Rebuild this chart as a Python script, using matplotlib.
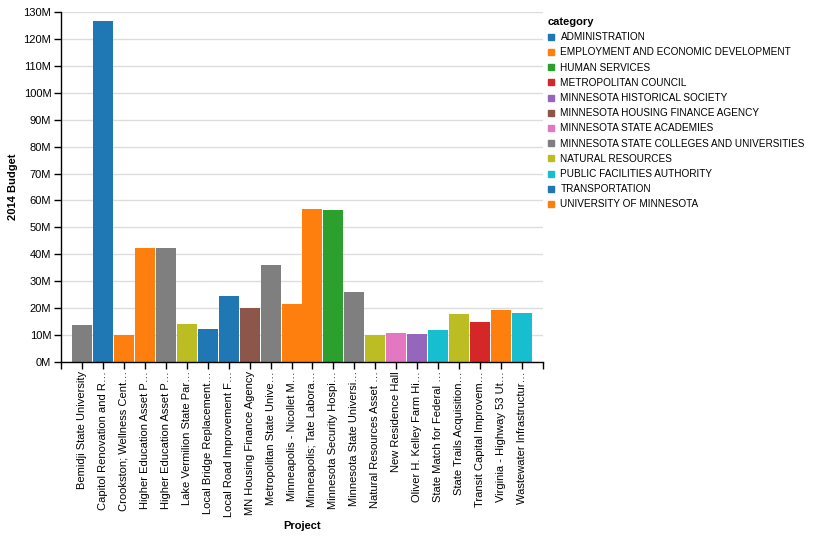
import matplotlib
matplotlib.use("Agg")
import matplotlib.pyplot as plt
from matplotlib.lines import Line2D

plt.rcParams['font.family'] = ['Liberation Sans', 'DejaVu Sans']

projects = [
    "Bemidji State University", "Capitol Renovation and R…", "Crookston; Wellness Cent…",
    "Higher Education Asset P…", "Higher Education Asset P…", "Lake Vermilion State Par…",
    "Local Bridge Replacement…", "Local Road Improvement F…", "MN Housing Finance Agency",
    "Metropolitan State Unive…", "Minneapolis - Nicollet M…", "Minneapolis; Tate Labora…",
    "Minnesota Security Hospi…", "Minnesota State Universi…", "Natural Resources Asset …",
    "New Residence Hall", "Oliver H. Kelley Farm Hi…", "State Match for Federal …",
    "State Trails Acquisition…", "Transit Capital Improvem…", "Virginia - Highway 53 Ut…",
    "Wastewater Infrastructur…",
]
budget_m = [13.9, 126.6, 10.2, 42.5, 42.5, 14.2, 12.4, 24.7, 20.2, 36.2, 21.7,
            57.0, 56.6, 26.1, 10.2, 10.9, 10.5, 12.0, 18.0, 15.0, 19.5, 18.3]
bar_category = [
    "MINNESOTA STATE COLLEGES AND UNIVERSITIES", "ADMINISTRATION", "UNIVERSITY OF MINNESOTA",
    "UNIVERSITY OF MINNESOTA", "MINNESOTA STATE COLLEGES AND UNIVERSITIES", "NATURAL RESOURCES",
    "TRANSPORTATION", "TRANSPORTATION", "MINNESOTA HOUSING FINANCE AGENCY",
    "MINNESOTA STATE COLLEGES AND UNIVERSITIES", "EMPLOYMENT AND ECONOMIC DEVELOPMENT",
    "UNIVERSITY OF MINNESOTA", "HUMAN SERVICES", "MINNESOTA STATE COLLEGES AND UNIVERSITIES",
    "NATURAL RESOURCES", "MINNESOTA STATE ACADEMIES", "MINNESOTA HISTORICAL SOCIETY",
    "PUBLIC FACILITIES AUTHORITY", "NATURAL RESOURCES", "METROPOLITAN COUNCIL",
    "EMPLOYMENT AND ECONOMIC DEVELOPMENT", "PUBLIC FACILITIES AUTHORITY",
]
categories = [
    "ADMINISTRATION", "EMPLOYMENT AND ECONOMIC DEVELOPMENT", "HUMAN SERVICES",
    "METROPOLITAN COUNCIL", "MINNESOTA HISTORICAL SOCIETY", "MINNESOTA HOUSING FINANCE AGENCY",
    "MINNESOTA STATE ACADEMIES", "MINNESOTA STATE COLLEGES AND UNIVERSITIES", "NATURAL RESOURCES",
    "PUBLIC FACILITIES AUTHORITY", "TRANSPORTATION", "UNIVERSITY OF MINNESOTA",
]
palette = ["#1f77b4", "#ff7f0e", "#2ca02c", "#d62728", "#9467bd", "#8c564b",
           "#e377c2", "#7f7f7f", "#bcbd22", "#17becf", "#1f77b4", "#ff7f0e"]
color_of = dict(zip(categories, palette))

W, H = 815, 536
fig = plt.figure(figsize=(W / 100, H / 100), dpi=100)
ax = fig.add_axes([61 / W, (H - 362) / H, (543 - 61) / W, (362 - 12) / H])

x = list(range(len(projects)))
ax.bar(x, budget_m, width=20 / 21, color=[color_of[c] for c in bar_category], zorder=2)

ax.set_xlim(-1, len(projects))
ax.set_ylim(0, 130)
ax.set_yticks(range(0, 131, 10))
ax.set_yticklabels([f"{v}M" for v in range(0, 131, 10)], fontsize=8)
ax.set_xticks(range(-1, len(projects) + 1))
ax.set_xticklabels([""] + projects + [""], rotation=90, fontsize=8)
ax.tick_params(axis='both', length=5, width=1, color='black', pad=2)
ax.tick_params(axis='x', pad=1.5)
ax.grid(axis='y', color='#dddddd', linewidth=1, zorder=0)
ax.set_axisbelow(True)
for s in ['top', 'right']:
    ax.spines[s].set_visible(False)
for s in ['left', 'bottom']:
    ax.spines[s].set_color('black')
    ax.spines[s].set_linewidth(1)

ax.set_ylabel("2014 Budget", fontsize=8, fontweight='bold', labelpad=4)
ax.set_xlabel("Project", fontsize=8, fontweight='bold', labelpad=3)

handles = [Line2D([], [], marker='s', linestyle='none', markersize=4.8,
                  markerfacecolor=color_of[c], markeredgecolor=color_of[c]) for c in categories]
leg = fig.legend(handles, categories, loc='upper left', bbox_to_anchor=(540 / W, (H - 9) / H),
                 frameon=False, fontsize=7.2, title="category",
                 title_fontproperties={'weight': 'bold', 'size': 8},
                 labelspacing=0.52, handlelength=0.5, handletextpad=0.75, borderpad=0.3,
                 alignment='left')

fig.savefig("out.png", dpi=100)
